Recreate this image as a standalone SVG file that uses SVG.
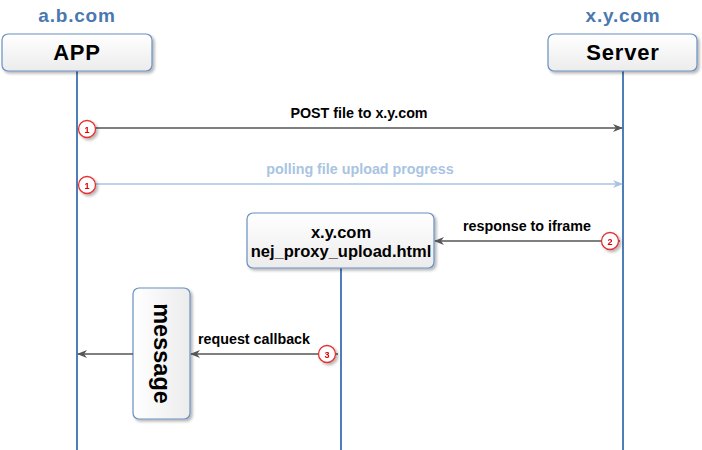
<svg xmlns="http://www.w3.org/2000/svg" width="702" height="450" viewBox="0 0 702 450">
<defs>
<linearGradient id="boxg" x1="0" y1="0" x2="0" y2="1"><stop offset="0" stop-color="#ffffff"/><stop offset="1" stop-color="#ececec"/></linearGradient>
<linearGradient id="boxh" x1="0" y1="0" x2="1" y2="0"><stop offset="0" stop-color="#ffffff"/><stop offset="1" stop-color="#ececec"/></linearGradient>
<filter id="sh" x="-10%" y="-10%" width="130%" height="130%"><feGaussianBlur in="SourceAlpha" stdDeviation="1.5"/><feOffset dx="2" dy="2"/><feComponentTransfer><feFuncA type="linear" slope="0.3"/></feComponentTransfer><feMerge><feMergeNode/><feMergeNode in="SourceGraphic"/></feMerge></filter>
<marker id="ad" markerWidth="10" markerHeight="8" refX="9" refY="4" orient="auto" markerUnits="userSpaceOnUse"><path d="M0,0 L10,4 L0,8 L3,4 Z" fill="#555555"/></marker>
<marker id="al" markerWidth="10" markerHeight="8" refX="9" refY="4" orient="auto" markerUnits="userSpaceOnUse"><path d="M0,0 L10,4 L0,8 L3,4 Z" fill="#a9c4e2"/></marker>
</defs>
<style>
.box{fill:url(#boxg);stroke:#6a90c0;stroke-width:1.2}
.life{stroke:#4f7db5;stroke-width:2}
.t{font-family:"Liberation Sans",Arial,sans-serif;font-weight:bold;text-anchor:middle}
.dom{font-size:19px;fill:#4a78b0;letter-spacing:0.8px}
.big{font-size:22px;fill:#000;letter-spacing:0.8px}
.lbl{font-size:14.3px;fill:#000}
.mid{font-size:16.5px;fill:#000}
.msg{stroke:#555555;stroke-width:1.5;fill:none;marker-end:url(#ad)}
.badge{fill:#fff;stroke:#e53030;stroke-width:1.3}
.bn{font-size:9px;fill:#e00000}
</style>
<g id="lifelines">
<line class="life" x1="77" y1="71" x2="77" y2="450"/>
<line class="life" x1="623" y1="71" x2="623" y2="450"/>
<line class="life" x1="341" y1="268" x2="341" y2="450"/>
</g>
<g id="app">
<text class="t dom" x="77" y="22">a.b.com</text>
<rect class="box" x="2" y="34" width="150" height="37" rx="6" filter="url(#sh)"/>
<text class="t big" x="77" y="60">APP</text>
</g>
<g id="server">
<text class="t dom" x="623" y="22">x.y.com</text>
<rect class="box" x="548" y="34" width="149" height="37" rx="6" filter="url(#sh)"/>
<text class="t big" x="623" y="60">Server</text>
</g>
<g id="proxy">
<rect class="box" x="247" y="213" width="187" height="55" rx="6" filter="url(#sh)"/>
<text class="t mid" x="341" y="238">x.y.com</text>
<text class="t mid" x="341" y="257">nej_proxy_upload.html</text>
</g>
<g id="message">
<rect x="133" y="288" width="57" height="131" rx="6" fill="url(#boxh)" stroke="#6a90c0" stroke-width="1.2" filter="url(#sh)"/>
<text class="t" font-size="23.5" fill="#000" transform="translate(161.5,353.5) rotate(90)" y="8">message</text>
</g>
<g id="connectors">
<line class="msg" x1="80" y1="128" x2="622" y2="128"/>
<text class="t lbl" x="359" y="118">POST file to x.y.com</text>
<line x1="80" y1="184" x2="622" y2="184" stroke="#a9c4e2" stroke-width="1.5" marker-end="url(#al)"/>
<text class="t lbl" x="360" y="174" style="fill:#a9c4e2">polling file upload progress</text>
<line class="msg" x1="620" y1="241" x2="435" y2="241"/>
<text class="t lbl" x="527" y="231">response to iframe</text>
<line class="msg" x1="338" y1="354" x2="191" y2="354"/>
<text class="t lbl" x="254" y="344">request callback</text>
<line class="msg" x1="133" y1="354" x2="78" y2="354"/>
</g>
<g id="badges" filter="url(#sh)">
<circle class="badge" cx="87" cy="129" r="8.5"/><text class="t bn" x="87" y="132.5">1</text>
<circle class="badge" cx="87" cy="185" r="8.5"/><text class="t bn" x="87" y="188.5">1</text>
<circle class="badge" cx="610" cy="241" r="8.5"/><text class="t bn" x="610" y="244.5">2</text>
<circle class="badge" cx="327" cy="354" r="8.5"/><text class="t bn" x="327" y="357.5">3</text>
</g>
</svg>
